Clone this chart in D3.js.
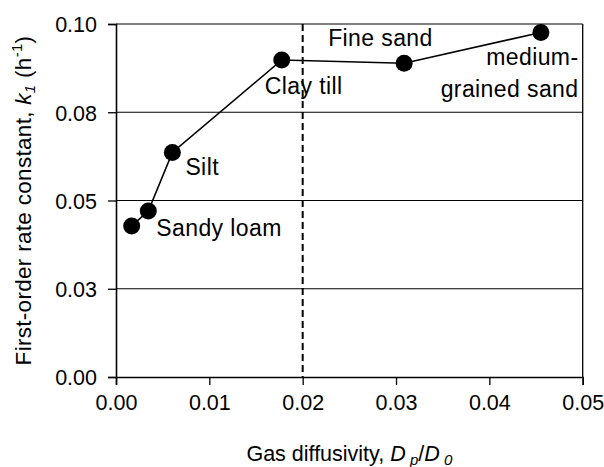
<!DOCTYPE html>
<html><head><meta charset="utf-8">
<script src="https://cdn.jsdelivr.net/npm/d3@7"></script>
<style>body{margin:0;background:#fff}svg{display:block;font-family:"Liberation Sans",Arial,sans-serif}</style>
</head><body><div id="chart"></div>
<script>
const soils = ["Sandy loam (a)", "Sandy loam", "Silt", "Clay till", "Fine sand", "medium-grained sand"];
const gasDiffusivity = [0.00168, 0.00346, 0.00604, 0.01776, 0.03087, 0.04552];
const rateConstant = [0.0428, 0.0470, 0.0636, 0.0898, 0.0889, 0.0976];
const xTicks = [0, 0.01, 0.02, 0.03, 0.04, 0.05];
const xTickLabels = ["0.00", "0.01", "0.02", "0.03", "0.04", "0.05"];
const yTicks = [0, 0.025, 0.05, 0.075, 0.1];
const yTickLabels = ["0.00", "0.03", "0.05", "0.08", "0.10"];
const threshold = 0.02;

const W = 604, H = 467;
const svg = d3.select("#chart").append("svg").attr("width", W).attr("height", H);
const x = d3.scaleLinear().domain([0, 0.05]).range([116, 582.7]);
const y = d3.scaleLinear().domain([0, 0.1]).range([377, 24]);

// grid lines
svg.append("g").selectAll("line").data(yTicks.filter(d => d > 0)).join("line")
  .attr("x1", x(0)).attr("x2", x(0.05)).attr("y1", d => y(d)).attr("y2", d => y(d))
  .attr("stroke", "#000").attr("stroke-width", 1.2);
// right border
svg.append("line").attr("x1", x(0.05)).attr("x2", x(0.05)).attr("y1", y(0.1)).attr("y2", y(0))
  .attr("stroke", "#000").attr("stroke-width", 1.3);

// axes
const yAxis = d3.axisLeft(y).tickValues(yTicks).tickFormat((d, i) => yTickLabels[i]).tickSizeOuter(0).tickSize(8).tickPadding(11);
const gy = svg.append("g").attr("transform", `translate(${x(0)},0)`).call(yAxis);
const xAxis = d3.axisBottom(x).tickValues(xTicks).tickFormat((d, i) => xTickLabels[i]).tickSizeOuter(0).tickSize(8).tickPadding(10);
const gx = svg.append("g").attr("transform", `translate(0,${y(0)})`).call(xAxis);
[gx, gy].forEach(g => {
  g.select(".domain").attr("stroke", "#000").attr("stroke-width", 1.6);
  g.selectAll(".tick line").attr("stroke", "#000").attr("stroke-width", 1.3);
  g.selectAll(".tick text").attr("fill", "#000").attr("font-size", 21.5).attr("font-family", "Liberation Sans, Arial, sans-serif");
});
gy.selectAll(".tick text").attr("dy", "0.36em");
gx.selectAll(".tick text").attr("dy", "0.71em");

// dashed threshold
svg.append("line").attr("x1", x(threshold)).attr("x2", x(threshold)).attr("y1", y(0.1)).attr("y2", y(0))
  .attr("stroke", "#000").attr("stroke-width", 2).attr("stroke-dasharray", "7,4");

const pts = gasDiffusivity.map((d, i) => ({x: d, y: rateConstant[i], name: soils[i]}));
svg.append("path").datum(pts)
  .attr("d", d3.line().x(d => x(d.x)).y(d => y(d.y)))
  .attr("fill", "none").attr("stroke", "#000").attr("stroke-width", 1.6);
svg.append("g").selectAll("circle").data(pts).join("circle")
  .attr("cx", d => x(d.x)).attr("cy", d => y(d.y)).attr("r", 8.5).attr("fill", "#000");

// point labels
const lab = svg.append("g").attr("font-size", 23).attr("letter-spacing", 0.4).attr("fill", "#000");
function label(i, dx, dy, lines, anchor) {
  const t = lab.append("text").attr("text-anchor", anchor || "start");
  lines.forEach((s, k) => t.append("tspan").attr("x", x(pts[i].x) + dx).attr("y", y(pts[i].y) + dy + k * 31.7).text(s));
}
label(1, 8, 25, ["Sandy loam"]);
label(2, 13, 23, ["Silt"]);
label(3, -17, 34, ["Clay till"]);
label(4, -76, -17, ["Fine sand"]);
label(5, 37.6, 33, ["medium-", "grained sand"], "end");

// axis titles
const xt = svg.append("text").attr("x", (x(0) + x(0.05)) / 2).attr("y", 461).attr("text-anchor", "middle").attr("font-size", 21.5);
xt.append("tspan").text("Gas diffusivity, ");
xt.append("tspan").attr("font-style", "italic").text("D");
xt.append("tspan").attr("font-style", "italic").attr("font-size", 15).attr("dy", 4).text(" p");
xt.append("tspan").attr("dy", -4).text("/");
xt.append("tspan").attr("font-style", "italic").text("D");
xt.append("tspan").attr("font-style", "italic").attr("font-size", 15).attr("dy", 4).text(" 0");

const yt = svg.append("text").attr("transform", `translate(31,${(y(0) + y(0.1)) / 2}) rotate(-90)`).attr("text-anchor", "middle").attr("font-size", 22.5).attr("letter-spacing", 0.3);
yt.append("tspan").text("First-order rate constant, ");
yt.append("tspan").attr("font-style", "italic").text("k");
yt.append("tspan").attr("font-style", "italic").attr("font-size", 15).attr("dy", 4).text("1");
yt.append("tspan").attr("dy", -4).text(" (h");
yt.append("tspan").attr("font-size", 15).attr("dy", -9).text("-1");
yt.append("tspan").attr("dy", 9).text(")");
</script></body></html>
